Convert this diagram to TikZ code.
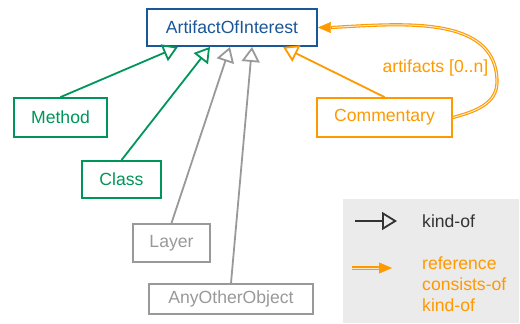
\documentclass[tikz,border=0pt]{standalone}
\usepackage{fontspec}
\setmainfont{Liberation Sans}
\usetikzlibrary{arrows.meta,calc}
\definecolor{cblue}{HTML}{1A5796}
\definecolor{cgreen}{HTML}{00955A}
\definecolor{cgray}{HTML}{999999}
\definecolor{corange}{HTML}{FF9900}
\definecolor{cdark}{HTML}{333333}
\definecolor{clegend}{HTML}{EBEBEB}
\definecolor{cgap}{HTML}{FFE9C8}
\begin{document}
\begin{tikzpicture}[x=1pt,y=-1pt,
  every node/.style={font=\fontsize{17.6}{21}\selectfont},
  box/.style={draw, line width=1.8pt, inner sep=0pt, fill=white},
  kindof/.style={line width=1.8pt, -{Triangle[open,length=15pt,width=18pt]}},
  refline/.style={draw=corange, line width=1.1pt, double=cgap, double distance=1.0pt},
  reftip/.style={draw=corange, line width=0.4pt, -{Triangle[length=13pt,width=11pt,fill=corange]}}
]
\useasboundingbox (0,0) rectangle (520,324);

% boxes
\node[box, draw=cblue, text=cblue, minimum width=170pt, minimum height=37pt] (aoi) at (232,27.5) {ArtifactOfInterest};
\node[box, draw=cgreen, text=cgreen, minimum width=93pt, minimum height=39pt] (method) at (60.5,117.5) {Method};
\node[box, draw=cgreen, text=cgreen, minimum width=79pt, minimum height=37pt] (class) at (121.5,179.5) {Class};
\node[box, draw=cgray, text=cgray, minimum width=77pt, minimum height=38pt] (layer) at (171.5,243) {Layer};
\node[box, draw=cgray, text=cgray, minimum width=164pt, minimum height=30pt] (any) at (231,299) {AnyOtherObject};
\node[box, draw=corange, text=corange, minimum width=135pt, minimum height=39pt] (comm) at (384.5,117.5) {Commentary};

% kind-of connectors
\draw[kindof, cgreen] (method.north) -- ($(aoi.south)+(-54,0)$);
\draw[kindof, cgreen] (class.north) -- ($(aoi.south)+(-22,0)$);
\draw[kindof, cgray] (layer.north) -- ($(aoi.south)+(-2,0)$);
\draw[kindof, cgray] (any.north) -- ($(aoi.south)+(20,0)$);
\draw[kindof, corange] (comm.north) -- ($(aoi.south)+(51,0)$);

% reference from Commentary back to ArtifactOfInterest
\coordinate (refend) at ($(aoi.east)+(13,0)$);
\draw[refline] (comm.east) to[out=15,in=-90] (497,82) to[out=90,in=3] (refend);
\draw[reftip] (refend) -- (aoi.east);
\node[text=corange] (reflabel) at (435.5,68) {artifacts [0..n]};

% legend
\fill[clegend] (343,199) rectangle (519,323);
\coordinate (k1) at (355,221);
\coordinate (k2) at (397,221);
\draw[kindof, cdark] (k1) -- (k2);
\node[anchor=west, inner sep=0pt, text=cdark] (kindtxt) at (422,221) {kind-of};
\coordinate (r1) at (352,268);
\coordinate (r2) at (379,268);
\coordinate (r3) at (392,268);
\draw[refline] (r1) -- (r2);
\draw[reftip] (r2) -- (r3);
\node[anchor=west, inner sep=0pt, align=left, text=corange] (reftxt) at (422,284.5) {reference\\consists-of\\kind-of};
\end{tikzpicture}
\end{document}
